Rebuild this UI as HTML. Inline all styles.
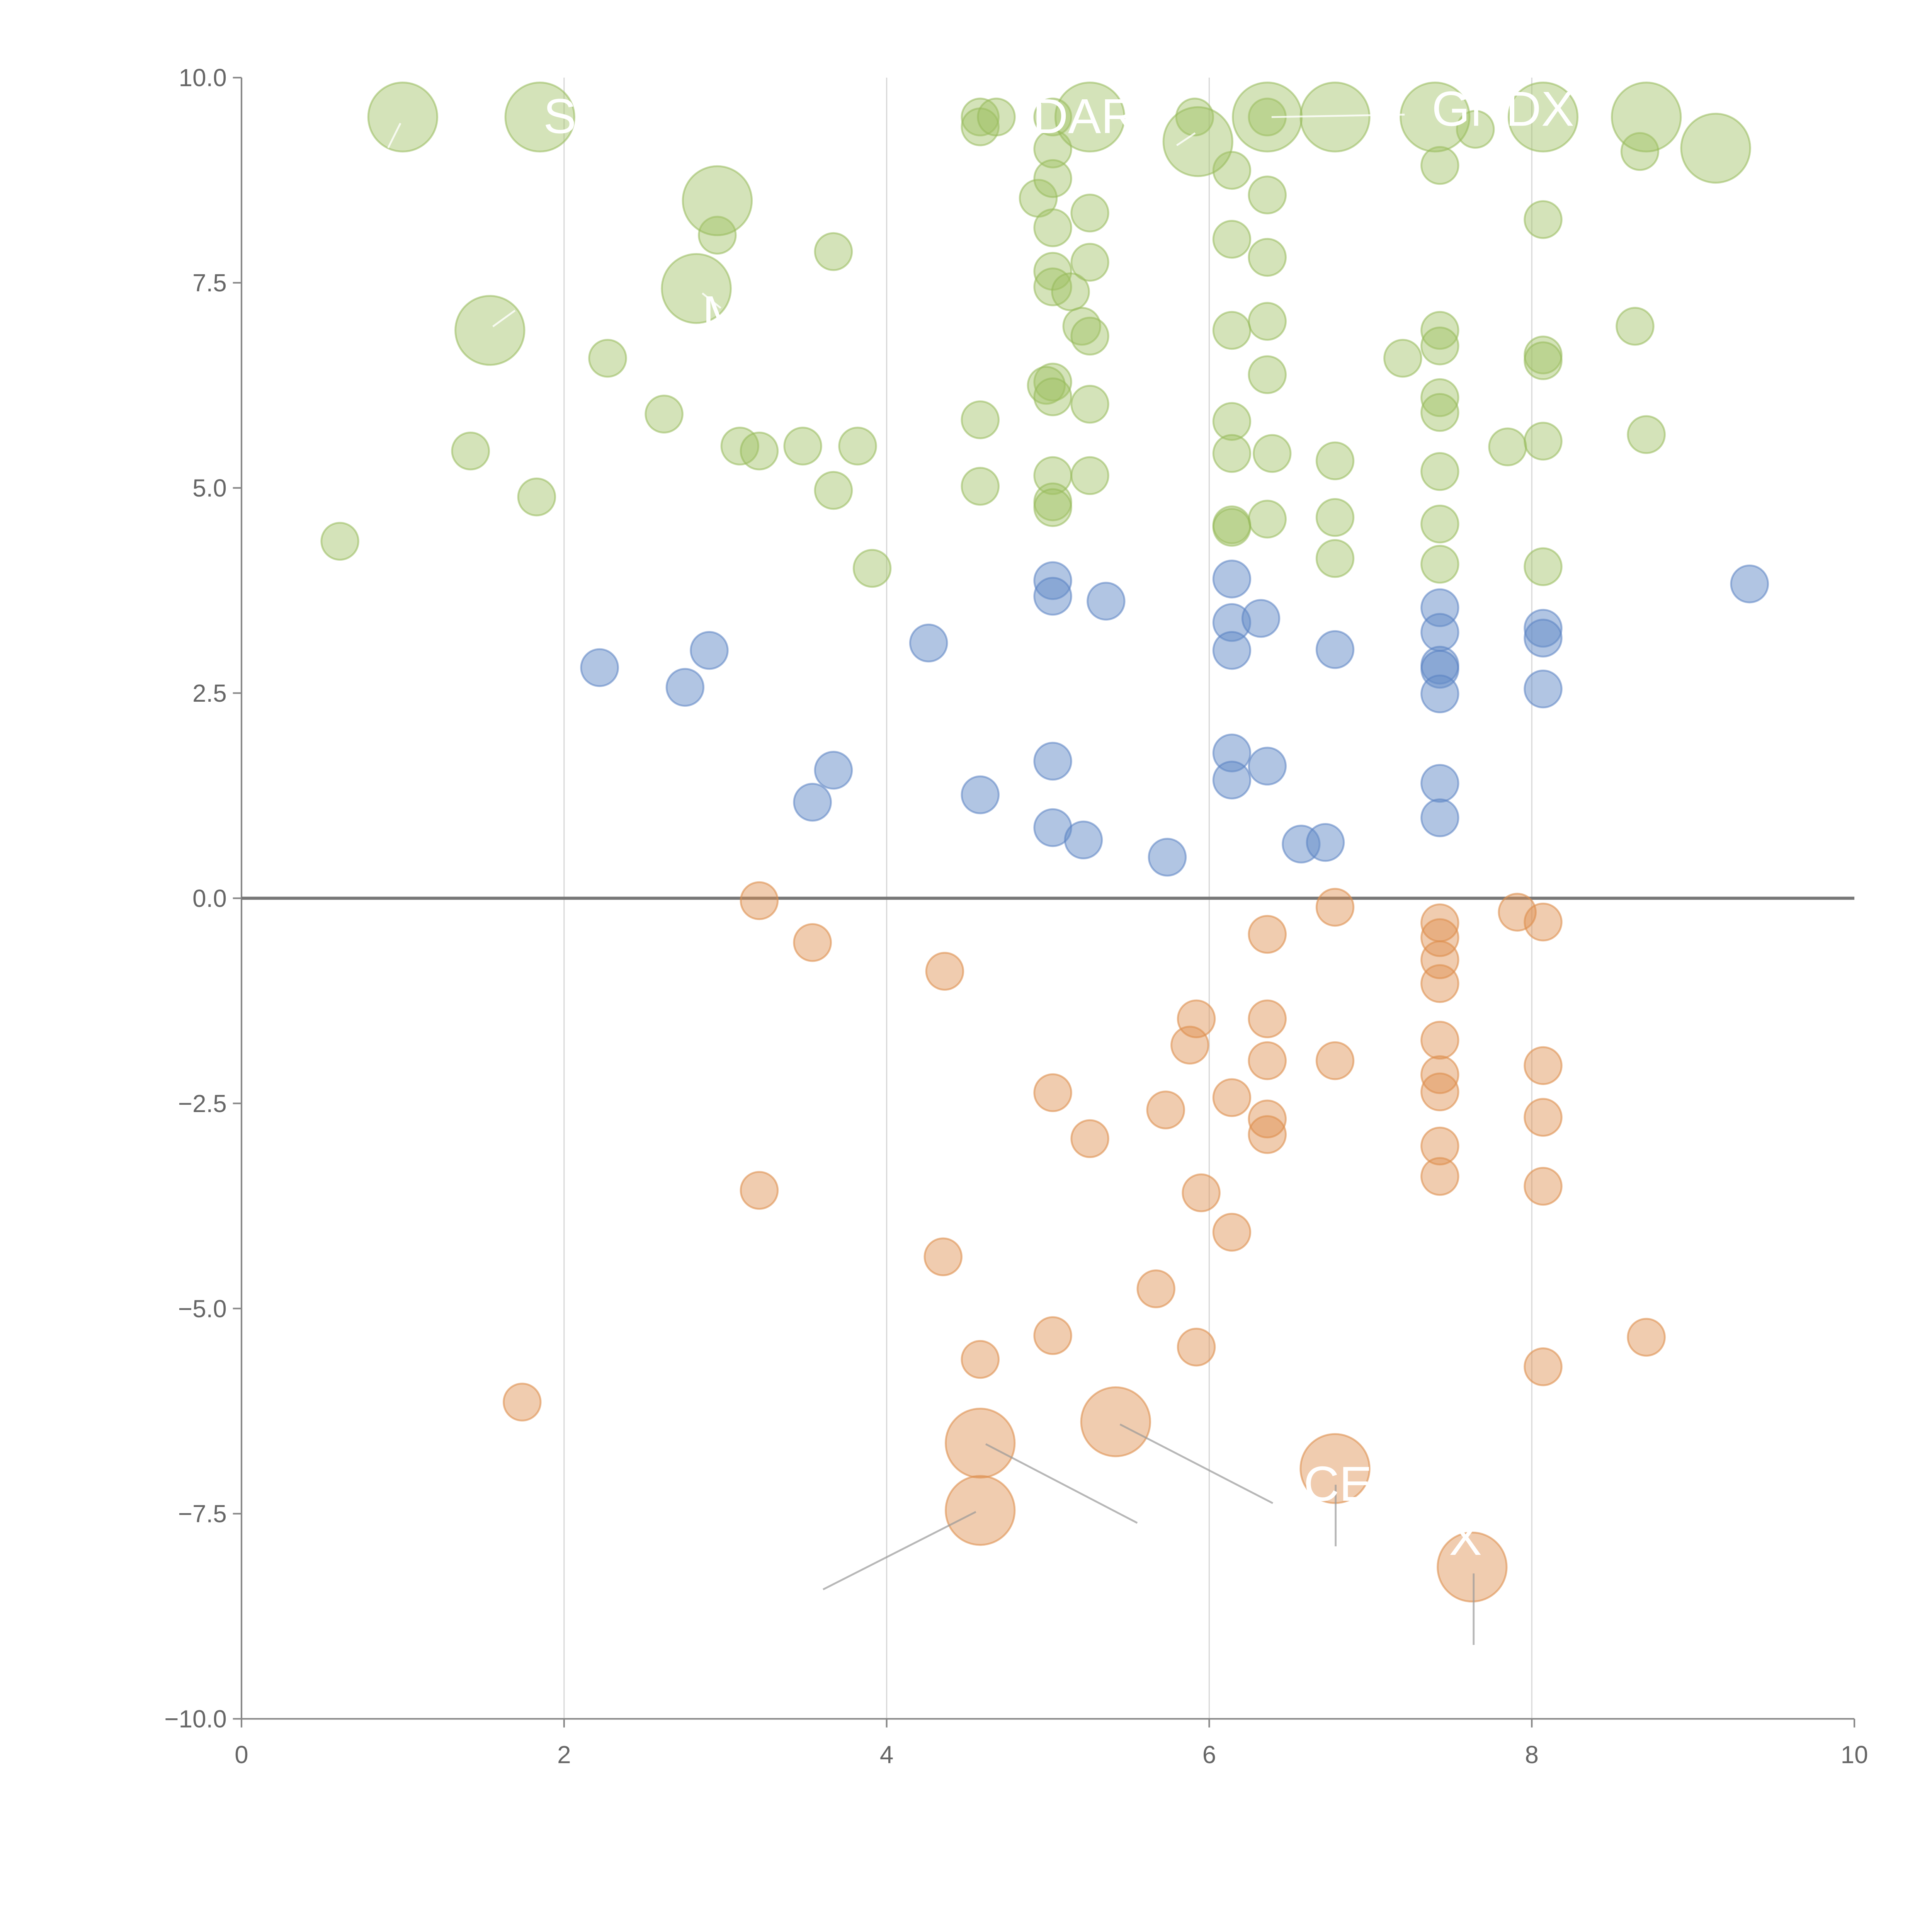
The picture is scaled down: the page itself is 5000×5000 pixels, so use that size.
<!DOCTYPE html>
<html><head><meta charset="utf-8"><style>
html,body{margin:0;padding:0;background:#fff;}
svg{display:block;font-family:"Liberation Sans",sans-serif;}
</style></head><body>
<svg id="chart" width="5000" height="5000" viewBox="0 0 1568 1568" xmlns="http://www.w3.org/2000/svg">
<g id="grid"></g>
<g id="axes"></g>
<g id="marks"></g>
<g id="labels"></g>
</svg>
<script>
const xTicks=[0,2,4,6,8,10];
const yTicks=[10,7.5,5,2.5,0,-2.5,-5,-7.5,-10];
const yTickLabels=["10.0","7.5","5.0","2.5","0.0","\u22122.5","\u22125.0","\u22127.5","\u221210.0"];
const greenX=[0.61,1.42,1.83,2.27,2.62,2.95,3.09,3.21,3.48,3.67,
3.67,3.82,3.91,4.58,4.58,4.68,4.58,4.58,4.94,5.03,
5.03,5.03,5.03,5.03,5.03,5.14,5.21,5.26,5.26,5.26,
5.26,5.26,5.03,4.99,5.03,5.03,5.03,5.03,5.91,6.14,
6.14,6.14,6.14,6.14,6.14,6.36,6.36,6.36,6.36,6.36,
6.39,6.36,6.78,6.78,6.78,7.20,7.43,7.43,7.43,7.43,
7.43,7.43,7.43,7.43,7.65,7.85,8.07,8.07,8.07,8.07,
8.07,8.67,8.64,8.71,6.14,
1.00,1.85,2.95,2.82,1.54,5.26,5.93,6.36,6.78,7.40,8.07,8.71,9.14];
const greenY=[4.35,5.45,4.89,6.58,5.90,8.08,5.51,5.45,5.51,7.88,
4.97,5.51,4.02,9.52,9.40,9.52,5.83,5.02,8.53,9.52,
9.13,8.77,8.17,7.64,7.45,7.39,6.97,6.85,8.35,7.75,
6.02,5.15,6.29,6.25,6.11,5.15,4.83,4.76,9.52,8.87,
8.03,6.92,5.81,5.42,4.55,9.52,8.57,7.81,7.03,6.38,
5.42,4.62,5.33,4.64,4.14,6.58,8.93,6.92,6.73,6.10,
5.92,5.20,4.56,4.07,9.37,5.50,8.27,6.62,6.55,5.57,
4.04,9.10,6.97,5.65,4.52,
9.52,9.52,8.50,7.43,6.92,9.52,9.22,9.52,9.52,9.52,9.52,9.52,9.14];
const greenBigCount=13;
const blueX=[2.22,2.75,2.90,3.54,3.67,4.26,4.58,5.03,5.03,5.36,
5.03,5.03,5.22,5.74,6.14,6.14,6.14,6.14,6.14,6.32,
6.36,6.57,6.72,6.78,7.43,7.43,7.43,7.43,7.43,7.43,
7.43,8.07,8.07,8.07,9.35];
const blueY=[2.81,2.57,3.02,1.17,1.56,3.11,1.26,3.87,3.68,3.62,
1.67,0.86,0.71,0.50,3.89,3.36,3.02,1.77,1.44,3.41,
1.61,0.66,0.68,3.03,3.54,3.24,2.84,2.79,2.49,1.40,
0.98,3.29,3.17,2.55,3.83];
const orangeX=[3.21,3.54,4.36,6.78,6.36,5.92,6.36,5.88,6.36,6.78,
6.14,6.36,6.36,5.03,5.26,5.73,3.21,5.95,6.14,4.35,
5.67,5.03,5.92,4.58,1.74,7.43,7.43,7.43,7.43,7.43,
7.43,7.43,7.43,7.43,7.91,8.07,8.07,8.07,8.07,8.07,
8.71,
4.58,4.58,5.42,6.78,7.63];
const orangeY=[-0.03,-0.54,-0.89,-0.11,-0.44,-1.47,-1.47,-1.79,-1.98,-1.98,
-2.43,-2.69,-2.88,-2.37,-2.93,-2.58,-3.56,-3.59,-4.07,-4.37,
-4.76,-5.33,-5.47,-5.62,-6.14,-0.30,-0.48,-0.75,-1.04,-1.73,
-2.15,-2.36,-3.02,-3.39,-0.17,-0.29,-2.04,-2.67,-3.51,-5.71,
-5.35,
-6.64,-7.46,-6.38,-6.95,-8.15];
const orangeBigCount=5;

const NS="http://www.w3.org/2000/svg";
const X0=196,X1=1505,Y0=1395,Y1=63;
function sx(v){return X0+(v-0)/(10-0)*(X1-X0);}
function sy(v){return Y0-(v+10)/20*(Y0-Y1);}
function mk(tag,attrs,parent){const e=document.createElementNS(NS,tag);for(const k in attrs)e.setAttribute(k,attrs[k]);parent.appendChild(e);return e;}
const grid=document.getElementById('grid'),axes=document.getElementById('axes'),marks=document.getElementById('marks'),labels=document.getElementById('labels');

xTicks.forEach(t=>{
  if(t>0&&t<10){const g=mk('line',{x1:sx(t),x2:sx(t),y1:Y1,y2:Y0,stroke:'#d9d9d9','stroke-width':1},grid);
  
  }
  const tk=mk('line',{x1:sx(t),x2:sx(t),y1:Y0,y2:Y0+7,stroke:'#888','stroke-width':1.3},axes);
  
  
  const tx=mk('text',{x:sx(t),y:Y0+36,'text-anchor':'middle','font-size':20,fill:'#666'},axes);
  tx.textContent=t;
  
  
});
yTicks.forEach((t,i)=>{
  const tk=mk('line',{x1:X0-7,x2:X0,y1:sy(t),y2:sy(t),stroke:'#888','stroke-width':1.3},axes);
  
  
  const tx=mk('text',{x:X0-12,y:sy(t)+7,'text-anchor':'end','font-size':20,fill:'#666'},axes);
  tx.textContent=yTickLabels[i];
  
  
});
const ya=mk('line',{x1:X0,x2:X0,y1:Y1,y2:Y0,stroke:'#888','stroke-width':1.3},axes);


const xa=mk('line',{x1:X0,x2:X1,y1:Y0,y2:Y0,stroke:'#888','stroke-width':1.3},axes);


const zl=mk('line',{x1:X0,x2:X1,y1:sy(0),y2:sy(0),stroke:'#777','stroke-width':2.5},axes);



function drawSeries(xs,ys,bigCount,fill,stroke,name){
  const n=xs.length;
  for(let i=0;i<n;i++){
    const big=i>=n-bigCount;
    const c=mk('circle',{cx:sx(xs[i]),cy:sy(ys[i]),r:big?28:15,fill:fill,stroke:stroke,'stroke-width':1.5},marks);
    
    
  }
}
drawSeries(greenX,greenY,greenBigCount,'rgba(160,192,100,0.45)','rgba(150,185,90,0.55)','bubble-green');
drawSeries(blueX,blueY,0,'rgba(100,140,200,0.5)','rgba(90,130,195,0.55)','bubble-blue');
drawSeries(orangeX,orangeY,orangeBigCount,'rgba(222,143,78,0.45)','rgba(222,143,78,0.6)','bubble-orange');

const leaders=[[792,1227,668,1290],[800,1172,923,1236],[909,1156,1033,1220],[1084,1205,1084,1255],[1196,1277,1196,1335]];
leaders.forEach(l=>{
  const e=mk('line',{x1:l[0],y1:l[1],x2:l[2],y2:l[3],stroke:'#999','stroke-width':1.5,'stroke-opacity':0.7},labels);
  
  
});
const wl=[[1032,95,1140,93],[325,100,315,120],[570,238,585,250],[400,265,418,252],[955,118,970,108]];
wl.forEach(l=>{
  const e=mk('line',{x1:l[0],y1:l[1],x2:l[2],y2:l[3],stroke:'#fff','stroke-width':1.5,'stroke-opacity':0.8},labels);
  
  
});
const texts=[["S",441,108],["DAR",838,108],["GNDX",1162,102],["M",570,268],["CEI",1058,1218],["X",1176,1262]];
texts.forEach(t=>{
  const e=mk('text',{x:t[1],y:t[2],'font-size':40,fill:'#fff'},labels);
  e.textContent=t[0];
  
  
});
</script>
</body></html>
